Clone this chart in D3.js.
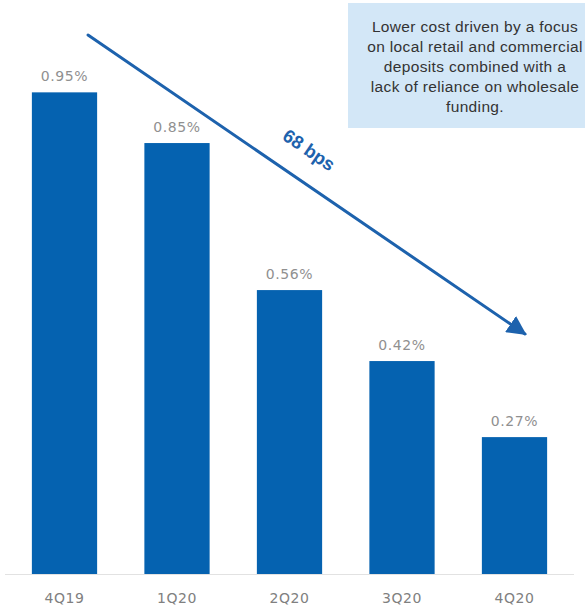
<!DOCTYPE html>
<html>
<head>
<meta charset="utf-8">
<script src="https://cdn.jsdelivr.net/npm/d3@7"></script>
<style>
  html, body { margin: 0; padding: 0; background: #fff; }
  svg { display: block; }
</style>
</head>
<body>
<svg id="chart" width="585" height="610"></svg>
<script>
// Cost of deposits by quarter
const quarters = ["4Q19", "1Q20", "2Q20", "3Q20", "4Q20"];
const costOfDeposits = [0.95, 0.85, 0.56, 0.42, 0.27];
const valueLabels = ["0.95%", "0.85%", "0.56%", "0.42%", "0.27%"];
const declineLabel = "68 bps";
const noteLines = [
  "Lower cost driven by a focus",
  "on local retail and commercial",
  "deposits combined with a",
  "lack of reliance on wholesale",
  "funding."
];

const svg = d3.select("#chart");
const barColor = "#0562b0";
const arrowColor = "#1d62ad";

const x = d3.scaleBand()
  .domain(quarters)
  .range([8.25, 570.75])
  .paddingInner(0.42)
  .paddingOuter(0.21);

const y = d3.scaleLinear().domain([0, 1]).range([574, 67]);

// baseline
svg.append("line")
  .attr("x1", 5).attr("x2", 574)
  .attr("y1", y(0) + 0.5).attr("y2", y(0) + 0.5)
  .attr("stroke", "#e2e2e2").attr("stroke-width", 1);

// bars
svg.append("g").selectAll("rect")
  .data(costOfDeposits)
  .join("rect")
  .attr("x", (d, i) => x(quarters[i]))
  .attr("y", d => y(d))
  .attr("width", x.bandwidth())
  .attr("height", d => y(0) - y(d))
  .attr("fill", barColor);

// value labels
svg.append("g").selectAll("text")
  .data(costOfDeposits)
  .join("text")
  .attr("x", (d, i) => x(quarters[i]) + x.bandwidth() / 2)
  .attr("y", d => y(d) - 11)
  .attr("text-anchor", "middle")
  .attr("font-family", "DejaVu Sans, sans-serif")
  .attr("font-size", 14)
  .attr("letter-spacing", 0.6)
  .attr("fill", "#909090")
  .text((d, i) => valueLabels[i]);

// category axis
const xAxis = svg.append("g")
  .attr("transform", `translate(0,${y(0)})`)
  .call(d3.axisBottom(x).tickSize(0).tickPadding(19));
xAxis.select(".domain").remove();
xAxis.selectAll("text")
  .attr("font-family", "DejaVu Sans, sans-serif")
  .attr("font-size", 14)
  .attr("letter-spacing", 0.6)
  .attr("fill", "#808080");

// trend arrow
const defs = svg.append("defs");
defs.append("marker")
  .attr("id", "arrowhead")
  .attr("viewBox", "0 0 10 10")
  .attr("refX", 9).attr("refY", 5)
  .attr("markerWidth", 6.5).attr("markerHeight", 6.5)
  .attr("markerUnits", "strokeWidth")
  .attr("orient", "auto")
  .append("path")
  .attr("d", "M0,0 L10,5 L0,10 Z")
  .attr("fill", arrowColor);

svg.append("line")
  .attr("x1", 88).attr("y1", 35)
  .attr("x2", 525).attr("y2", 334)
  .attr("stroke", arrowColor)
  .attr("stroke-width", 3)
  .attr("stroke-linecap", "round")
  .attr("marker-end", "url(#arrowhead)");

const angle = Math.atan2(334 - 35, 525 - 88) * 180 / Math.PI;
svg.append("text")
  .attr("transform", `translate(309,150) rotate(${angle})`)
  .attr("text-anchor", "middle")
  .attr("dy", "0.35em")
  .attr("font-family", "Liberation Sans, Arial, sans-serif")
  .attr("font-weight", "bold")
  .attr("font-size", 18.5)
  .attr("fill", arrowColor)
  .text(declineLabel);

// note box
svg.append("rect")
  .attr("x", 348).attr("y", 3)
  .attr("width", 240).attr("height", 125)
  .attr("fill", "#d3e7f7");

svg.append("g").selectAll("text")
  .data(noteLines)
  .join("text")
  .attr("x", 475)
  .attr("y", (d, i) => 32 + i * 20)
  .attr("text-anchor", "middle")
  .attr("font-family", "Liberation Sans, Arial, sans-serif")
  .attr("font-size", 15.5)
  .attr("letter-spacing", 0.35)
  .attr("fill", "#333")
  .text(d => d);
</script>
</body>
</html>
